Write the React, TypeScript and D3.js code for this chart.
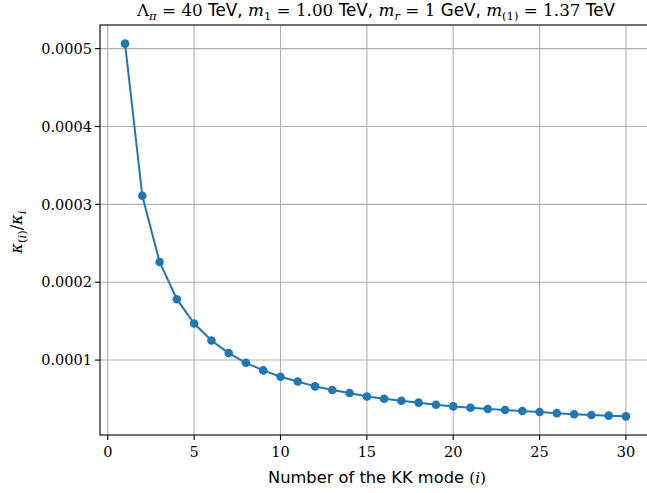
import React from "react";
import * as d3 from "d3";

const modes: number[] = Array.from({ length: 30 }, (_, k) => k + 1);
const ratioValues: number[] = [
  5.064e-4, 3.11e-4, 2.26e-4, 1.782e-4, 1.469e-4, 1.251e-4, 1.09e-4, 0.965e-4,
  0.867e-4, 0.786e-4, 0.724e-4, 0.662e-4, 0.615e-4, 0.577e-4, 0.533e-4, 0.504e-4,
  0.478e-4, 0.453e-4, 0.427e-4, 0.405e-4, 0.388e-4, 0.372e-4, 0.359e-4, 0.346e-4,
  0.333e-4, 0.318e-4, 0.305e-4, 0.295e-4, 0.286e-4, 0.277e-4,
];
const xTicks: number[] = [0, 5, 10, 15, 20, 25, 30];
const yTicks: number[] = [0.0001, 0.0002, 0.0003, 0.0004, 0.0005];
const yTickLabels: string[] = ["0.0001", "0.0002", "0.0003", "0.0004", "0.0005"];

const W = 647;
const H = 493;
const left = 100;
const right = 651;
const top = 25;
const bottom = 435;

const SERIF = "DejaVu Serif";
const SANS = "DejaVu Sans";
const BLUE = "#1f77b4";

export default function App() {
  const xmin = d3.min(modes)!;
  const xmax = d3.max(modes)!;
  const xm = (xmax - xmin) * 0.05;
  const ymin = d3.min(ratioValues)!;
  const ymax = d3.max(ratioValues)!;
  const ym = (ymax - ymin) * 0.05;
  const x = d3.scaleLinear().domain([xmin - xm, xmax + xm]).range([left, right]);
  const y = d3.scaleLinear().domain([ymin - ym, ymax + ym]).range([bottom, top]);
  const pts = modes.map((m, i) => [m, ratioValues[i]] as [number, number]);
  const line = d3
    .line<[number, number]>()
    .x((d) => x(d[0]))
    .y((d) => y(d[1]));

  const fs = 14.5;
  const sub = 11.5;
  const serif = { fontFamily: SERIF };
  const serifI = { fontFamily: SERIF, fontStyle: "italic" as const };
  const sans = { fontFamily: SANS };
  const tfs = 16.8;

  return (
    <svg
      width={W}
      height={H}
      style={{ position: "absolute", left: 0, top: 0, background: "#fff" }}
    >
      <rect x={0} y={0} width={W} height={H} fill="#fff" />
      {xTicks.map((t) => (
        <line key={"gx" + t} x1={x(t)} x2={x(t)} y1={top} y2={bottom} stroke="#b0b0b0" strokeWidth={1.1} />
      ))}
      {yTicks.map((t) => (
        <line key={"gy" + t} x1={left} x2={right} y1={y(t)} y2={y(t)} stroke="#b0b0b0" strokeWidth={1.1} />
      ))}
      <path d={line(pts) || ""} fill="none" stroke={BLUE} strokeWidth={2} />
      {pts.map((p, i) => (
        <circle key={"c" + i} cx={x(p[0])} cy={y(p[1])} r={4.3} fill={BLUE} />
      ))}
      <rect x={left} y={top} width={right - left} height={bottom - top} fill="none" stroke="#000" strokeWidth={1.1} />
      {xTicks.map((t) => (
        <g key={"xt" + t}>
          <line x1={x(t)} x2={x(t)} y1={bottom} y2={bottom + 5} stroke="#000" strokeWidth={1.1} />
          <text x={x(t)} y={bottom + 22} textAnchor="middle" style={{ ...serif, fontSize: fs }}>
            {t}
          </text>
        </g>
      ))}
      {yTicks.map((t, i) => (
        <g key={"yt" + t}>
          <line x1={left - 5} x2={left} y1={y(t)} y2={y(t)} stroke="#000" strokeWidth={1.1} />
          <text x={left - 8} y={y(t)} dy="0.36em" textAnchor="end" style={{ ...serif, fontSize: fs }}>
            {yTickLabels[i]}
          </text>
        </g>
      ))}
      <text x={377} y={483} textAnchor="middle" style={{ fontSize: 16.3 }}>
        <tspan style={sans}>Number of the KK mode </tspan>
        <tspan style={{ ...serif, fontSize: 15.3 }}>(</tspan>
        <tspan style={{ ...serifI, fontSize: 15.3 }}>i</tspan>
        <tspan style={{ ...serif, fontSize: 15.3 }}>)</tspan>
      </text>
      <text
        transform={`translate(22, ${(top + bottom) / 2 + 2}) rotate(-90)`}
        textAnchor="middle"
        style={{ ...serif, fontSize: 16 }}
      >
        <tspan style={serifI}>κ</tspan>
        <tspan style={{ ...serif, fontSize: sub }} dy={4}>(</tspan>
        <tspan style={{ ...serifI, fontSize: sub }}>i</tspan>
        <tspan style={{ ...serif, fontSize: sub }}>)</tspan>
        <tspan dy={-4}>/</tspan>
        <tspan style={serifI}>κ</tspan>
        <tspan style={{ ...serifI, fontSize: sub }} dy={4}>i</tspan>
      </text>
      <text x={376} y={16} textAnchor="middle" style={{ ...serif, fontSize: tfs }}>
        <tspan>Λ</tspan>
        <tspan style={{ ...serifI, fontSize: sub }} dy={4}>π</tspan>
        <tspan dy={-4}> = 40 </tspan>
        <tspan style={{ ...sans, fontSize: tfs }}>TeV, </tspan>
        <tspan style={serifI}>m</tspan>
        <tspan style={{ fontSize: sub }} dy={4}>1</tspan>
        <tspan dy={-4}> = 1.00 </tspan>
        <tspan style={{ ...sans, fontSize: tfs }}>TeV, </tspan>
        <tspan style={serifI}>m</tspan>
        <tspan style={{ ...serifI, fontSize: sub }} dy={4}>r</tspan>
        <tspan dy={-4}> = 1 </tspan>
        <tspan style={{ ...sans, fontSize: tfs }}>GeV, </tspan>
        <tspan style={serifI}>m</tspan>
        <tspan style={{ fontSize: sub }} dy={4}>(1)</tspan>
        <tspan dy={-4}> = 1.37 </tspan>
        <tspan style={{ ...sans, fontSize: tfs }}>TeV</tspan>
      </text>
    </svg>
  );
}
